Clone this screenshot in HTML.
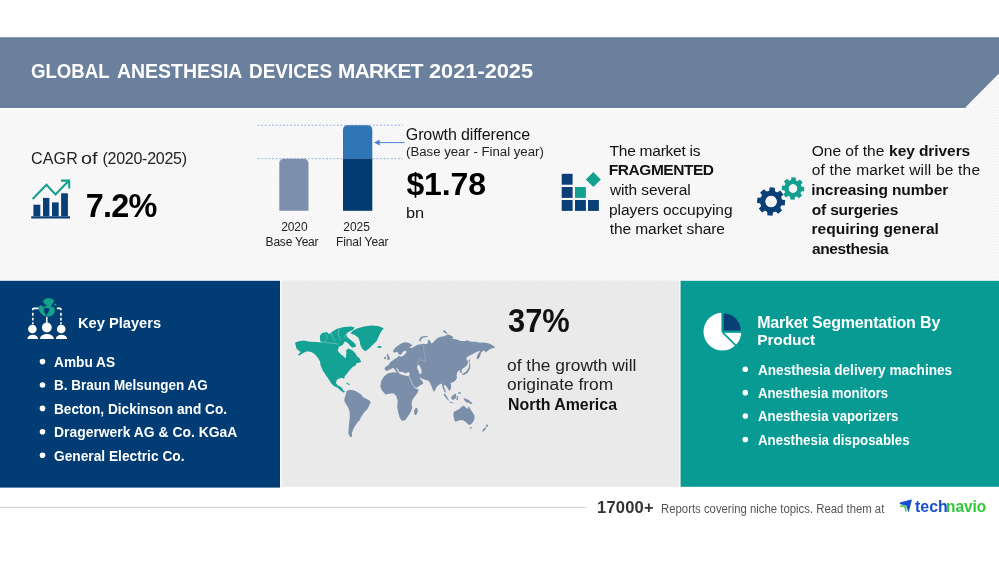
<!DOCTYPE html>
<html><head><meta charset="utf-8">
<style>
html,body{margin:0;padding:0;background:#fff;}
body{width:999px;height:562px;position:relative;overflow:hidden;font-family:"Liberation Sans",sans-serif;}
.t{position:absolute;white-space:nowrap;line-height:1;transform-origin:0 0;}
#txt{position:absolute;left:0;top:0;width:999px;height:562px;will-change:transform;}
.abs{position:absolute;}
</style></head><body>
<svg class="abs" style="left:0;top:0" width="999" height="562" viewBox="0 0 999 562">
<defs><pattern id="hatch" width="22" height="22" patternUnits="userSpaceOnUse"><rect width="22" height="22" fill="#fff"/><g stroke="#e3e3e3" stroke-width="0.8"><path d="M-24.75 22L-2.75 0"/><path d="M-22.00 22L0.00 0"/><path d="M-19.25 22L2.75 0"/><path d="M-16.50 22L5.50 0"/><path d="M-13.75 22L8.25 0"/><path d="M-11.00 22L11.00 0"/><path d="M-8.25 22L13.75 0"/><path d="M-5.50 22L16.50 0"/><path d="M-2.75 22L19.25 0"/><path d="M0.00 22L22.00 0"/><path d="M2.75 22L24.75 0"/><path d="M5.50 22L27.50 0"/><path d="M8.25 22L30.25 0"/><path d="M11.00 22L33.00 0"/><path d="M13.75 22L35.75 0"/><path d="M16.50 22L38.50 0"/><path d="M19.25 22L41.25 0"/><path d="M22.00 22L44.00 0"/><path d="M24.75 22L46.75 0"/></g></pattern></defs>
<rect x="0" y="38" width="999" height="243" fill="url(#hatch)"/>
<path d="M0 37.3H999V74.4L962.5 110.5H0Z" fill="#ffffff"/>
<path d="M0 37.6H999V73.6L965 107.7H0Z" fill="#6a809c"/>
<rect x="0" y="37.6" width="999" height="0.9" fill="#5f7595"/>
<rect x="0" y="106.6" width="966" height="1.1" fill="#61789a"/>
<rect x="0" y="279.6" width="999" height="1.2" fill="#fdfdfd"/>
<rect x="280" y="280.5" width="401" height="206.3" fill="#f5f6f6"/>
<rect x="282" y="280.5" width="397" height="206.3" fill="#eaeaea"/>
<rect x="0" y="280.8" width="280" height="206.8" fill="#013c74"/>
<rect x="680.6" y="280.8" width="318.4" height="206" fill="#079b94"/>
<rect x="0" y="506.8" width="585.8" height="1.3" fill="#d8d8d8"/>
</svg>
<div id="txt">
<div class="t" style="top:60px;font-size:20.8px;color:#fff;font-weight:bold;left:30.64px;transform:translateY(0.80px) scaleX(0.8945);">GLOBAL</div>
<div class="t" style="top:60px;font-size:20.8px;color:#fff;font-weight:bold;left:117.32px;transform:translateY(0.80px) scaleX(0.9355);">ANESTHESIA</div>
<div class="t" style="top:60px;font-size:20.8px;color:#fff;font-weight:bold;left:249.03px;transform:translateY(0.80px) scaleX(0.9102);">DEVICES</div>
<div class="t" style="top:60px;font-size:20.8px;color:#fff;font-weight:bold;left:338.11px;letter-spacing:-0.728px;transform:translateY(0.80px);">MARKET</div>
<div class="t" style="top:60px;font-size:20.8px;color:#fff;font-weight:bold;left:429.25px;transform:translateY(0.80px) scaleX(1.0463);">2021-2025</div>
<div class="t" style="top:150px;font-size:16px;color:#222;left:30.99px;letter-spacing:0.176px;transform:translateY(0.80px);">CAGR</div>
<div class="t" style="top:150px;font-size:16px;color:#222;left:81.27px;transform:translateY(0.80px) scaleX(1.2367);">of</div>
<div class="t" style="top:150px;font-size:16px;color:#222;left:102.51px;letter-spacing:-0.269px;transform:translateY(0.80px);">(2020-2025)</div>
<div class="t" style="top:189px;font-size:32.4px;color:#000;font-weight:bold;left:85.71px;letter-spacing:-0.760px;transform:translateY(0.80px);">7.2%</div>
<div class="t" style="top:127px;font-size:16px;color:#111;left:405.80px;letter-spacing:-0.105px;transform:translateY(0.30px);">Growth difference</div>
<div class="t" style="top:145px;font-size:12px;color:#222;left:405.68px;transform:translateY(0.50px) scaleX(1.0994);">(Base year - Final year)</div>
<div class="t" style="top:168px;font-size:32px;color:#000;font-weight:bold;left:406.48px;letter-spacing:-0.143px;transform:translateY(0.00px);">$1.78</div>
<div class="t" style="top:205px;font-size:15px;color:#111;left:406.24px;transform:translateY(0.40px) scaleX(1.0920);">bn</div>
<div class="t" style="top:220px;font-size:12px;color:#222;left:281.30px;letter-spacing:-0.141px;transform:translateY(0.50px);">2020</div>
<div class="t" style="top:236px;font-size:12px;color:#222;left:265.62px;letter-spacing:-0.219px;transform:translateY(0.00px);">Base Year</div>
<div class="t" style="top:220px;font-size:12px;color:#222;left:343.30px;letter-spacing:-0.029px;transform:translateY(0.50px);">2025</div>
<div class="t" style="top:236px;font-size:12px;color:#222;left:335.92px;letter-spacing:-0.078px;transform:translateY(0.00px);">Final Year</div>
<div class="t" style="top:142px;font-size:15.5px;color:#111;left:609.55px;letter-spacing:-0.240px;transform:translateY(0.70px);">The market is</div>
<div class="t" style="top:162px;font-size:15.5px;color:#111;font-weight:bold;left:608.86px;letter-spacing:-0.463px;transform:translateY(0.30px);">FRAGMENTED</div>
<div class="t" style="top:182px;font-size:15.5px;color:#111;left:609.92px;letter-spacing:-0.102px;transform:translateY(0.00px);">with several</div>
<div class="t" style="top:201px;font-size:15.5px;color:#111;left:608.90px;letter-spacing:-0.023px;transform:translateY(0.60px);">players occupying</div>
<div class="t" style="top:221px;font-size:15.5px;color:#111;left:609.67px;letter-spacing:-0.065px;transform:translateY(0.20px);">the market share</div>
<div class="t" style="top:142px;font-size:15.5px;color:#111;left:811.67px;letter-spacing:0.027px;transform:translateY(0.70px);">One of the</div>
<div class="t" style="top:142px;font-size:15.5px;color:#111;font-weight:bold;left:889.12px;letter-spacing:-0.075px;transform:translateY(0.70px);">key drivers</div>
<div class="t" style="top:162px;font-size:15.5px;color:#111;left:811.75px;letter-spacing:0.190px;transform:translateY(0.30px);">of the market will be the</div>
<div class="t" style="top:182px;font-size:15.5px;color:#111;font-weight:bold;left:811.32px;letter-spacing:-0.110px;transform:translateY(0.00px);">increasing number</div>
<div class="t" style="top:201px;font-size:15.5px;color:#111;font-weight:bold;left:811.79px;letter-spacing:-0.189px;transform:translateY(0.60px);">of surgeries</div>
<div class="t" style="top:221px;font-size:15.5px;color:#111;font-weight:bold;left:811.38px;letter-spacing:0.057px;transform:translateY(0.20px);">requiring general</div>
<div class="t" style="top:240px;font-size:15.5px;color:#111;font-weight:bold;left:811.95px;letter-spacing:-0.375px;transform:translateY(0.90px);">anesthesia</div>
<div class="t" style="top:315px;font-size:15.5px;color:#fff;font-weight:bold;left:78.02px;transform:translateY(0.00px) scaleX(0.9452);">Key Players</div>
<div class="t" style="top:354px;font-size:15px;color:#fff;font-weight:bold;left:54.46px;transform:translateY(0.00px) scaleX(0.9122);">Ambu AS</div>
<div class="t" style="top:377px;font-size:15px;color:#fff;font-weight:bold;left:53.90px;transform:translateY(0.40px) scaleX(0.8984);">B. Braun Melsungen AG</div>
<div class="t" style="top:400px;font-size:15px;color:#fff;font-weight:bold;left:53.89px;transform:translateY(0.80px) scaleX(0.9107);">Becton, Dickinson and Co.</div>
<div class="t" style="top:424px;font-size:15px;color:#fff;font-weight:bold;left:53.87px;transform:translateY(0.20px) scaleX(0.9265);">Dragerwerk AG &amp; Co. KGaA</div>
<div class="t" style="top:447px;font-size:15px;color:#fff;font-weight:bold;left:54.24px;transform:translateY(0.60px) scaleX(0.9155);">General Electric Co.</div>
<div class="t" style="top:303px;font-size:34px;color:#111;font-weight:bold;left:507.69px;transform:translateY(0.00px) scaleX(0.9070);">37%</div>
<div class="t" style="top:357px;font-size:16px;color:#222;left:507.27px;transform:translateY(0.70px) scaleX(1.0858);">of the growth will</div>
<div class="t" style="top:376px;font-size:16px;color:#222;left:507.27px;transform:translateY(0.80px) scaleX(1.0854);">originate from</div>
<div class="t" style="top:395px;font-size:17px;color:#111;font-weight:bold;left:507.54px;transform:translateY(0.50px) scaleX(0.9353);">North America</div>
<div class="t" style="top:314px;font-size:16px;color:#fff;font-weight:bold;left:757.13px;letter-spacing:-0.169px;transform:translateY(0.90px);">Market Segmentation By</div>
<div class="t" style="top:331px;font-size:15.5px;color:#fff;font-weight:bold;left:757.16px;letter-spacing:-0.088px;transform:translateY(0.70px);">Product</div>
<div class="t" style="top:361px;font-size:15px;color:#fff;font-weight:bold;left:757.86px;transform:translateY(0.60px) scaleX(0.9058);">Anesthesia delivery machines</div>
<div class="t" style="top:385px;font-size:15px;color:#fff;font-weight:bold;left:757.87px;transform:translateY(0.03px) scaleX(0.8773);">Anesthesia monitors</div>
<div class="t" style="top:408px;font-size:15px;color:#fff;font-weight:bold;left:757.87px;transform:translateY(0.46px) scaleX(0.8822);">Anesthesia vaporizers</div>
<div class="t" style="top:431px;font-size:15px;color:#fff;font-weight:bold;left:757.87px;transform:translateY(0.89px) scaleX(0.8870);">Anesthesia disposables</div>
<div class="t" style="top:498px;font-size:16.5px;color:#333;font-weight:bold;left:597.06px;letter-spacing:0.198px;transform:translateY(0.65px);">17000+</div>
<div class="t" style="top:502px;font-size:12px;color:#555;left:660.97px;transform:translateY(0.60px) scaleX(0.9458);">Reports covering niche topics. Read them at</div>
<div class="t" style="top:498px;font-size:17px;color:#1650cf;font-weight:bold;left:914.71px;transform:translateY(0.20px) scaleX(0.9349);">tech</div>
<div class="t" style="top:498px;font-size:17px;color:#30c838;font-weight:bold;left:946.39px;transform:translateY(0.20px) scaleX(0.9058);">navio</div>
</div>
<svg class="abs" style="left:0;top:0" width="999" height="562" viewBox="0 0 999 562">
<g>
<line x1="257.6" y1="125.2" x2="402.7" y2="125.2" stroke="#9db4e0" stroke-width="1" stroke-dasharray="2 1.6"/>
<line x1="257.6" y1="158.7" x2="402.7" y2="158.7" stroke="#9db4e0" stroke-width="1" stroke-dasharray="2 1.6"/>
<path d="M279.3 210.8V163.2a4.5 4.5 0 0 1 4.5-4.5h20.2a4.5 4.5 0 0 1 4.5 4.5V210.8Z" fill="#7c8fac"/>
<path d="M343 158.7V129.7a4.5 4.5 0 0 1 4.5-4.5h20.3a4.5 4.5 0 0 1 4.5 4.5V158.7Z" fill="#2e75b6"/>
<rect x="343" y="158.7" width="29.3" height="52.1" fill="#023a72"/>
<line x1="378" y1="142.6" x2="404.5" y2="142.6" stroke="#4a7fd4" stroke-width="1"/>
<path d="M374 142.6l5.6-2.9v5.8z" fill="#4a7fd4"/>
</g>
<g>
<rect x="31.2" y="216.3" width="38.8" height="2.2" fill="#0b3f78"/>
<rect x="33.4" y="204.7" width="6.9" height="11.6" fill="#0b3f78"/>
<rect x="43" y="197.9" width="6.4" height="18.4" fill="#0b3f78"/>
<rect x="52" y="202.4" width="6.7" height="13.9" fill="#0b3f78"/>
<rect x="61.1" y="193.3" width="6.8" height="23.0" fill="#0b3f78"/>
<polyline points="32.6,199 46.5,184.8 55.5,194.4 68.6,181" fill="none" stroke="#14a091" stroke-width="2.1" stroke-linejoin="miter"/>
<polyline points="61,180.6 69.2,180.6 69.2,188.4" fill="none" stroke="#14a091" stroke-width="2.1" stroke-linejoin="miter"/>
</g>
<g>
<rect x="561.7" y="173.8" width="10.9" height="10.9" fill="#0b3f78"/>
<rect x="561.7" y="187" width="10.9" height="10.9" fill="#0b3f78"/>
<rect x="575" y="187" width="10.9" height="10.9" fill="#14a091"/>
<rect x="561.7" y="200" width="10.9" height="10.9" fill="#0b3f78"/>
<rect x="575" y="200" width="10.9" height="10.9" fill="#0b3f78"/>
<rect x="588" y="200" width="10.9" height="10.9" fill="#0b3f78"/>
<path d="M593.3 172l7.5 7.5-7.5 7.5-7.5-7.5z" fill="#14a091"/>
</g>
<g>
<path d="M769.03 190.90 L769.79 187.36 L774.85 187.80 L774.98 191.42 L777.13 192.54 L780.17 190.57 L783.44 194.47 L780.97 197.11 L781.70 199.43 L785.24 200.19 L784.80 205.25 L781.18 205.38 L780.06 207.53 L782.03 210.57 L778.13 213.84 L775.49 211.37 L773.17 212.10 L772.41 215.64 L767.35 215.20 L767.22 211.58 L765.07 210.46 L762.03 212.43 L758.76 208.53 L761.23 205.89 L760.50 203.57 L756.96 202.81 L757.40 197.75 L761.02 197.62 L762.14 195.47 L760.17 192.43 L764.07 189.16 L766.71 191.63Z M765.10 201.50a6.0 6.0 0 1 1 12.0 0a6.0 6.0 0 1 1 -12.0 0Z" fill="#0b3f78" fill-rule="evenodd"/>
<path d="M760.30 201.50a10.8 10.8 0 1 0 21.6 0a10.8 10.8 0 1 0 -21.6 0Z M765.10 201.50a6.0 6.0 0 1 1 12.0 0a6.0 6.0 0 1 1 -12.0 0Z" fill="#0b3f78" fill-rule="evenodd"/>
<path d="M790.98 180.14 L791.44 177.21 L795.74 177.43 L795.89 180.40 L797.48 181.16 L799.88 179.41 L802.76 182.61 L800.77 184.81 L801.36 186.48 L804.29 186.94 L804.07 191.24 L801.10 191.39 L800.34 192.98 L802.09 195.38 L798.89 198.26 L796.69 196.27 L795.02 196.86 L794.56 199.79 L790.26 199.57 L790.11 196.60 L788.52 195.84 L786.12 197.59 L783.24 194.39 L785.23 192.19 L784.64 190.52 L781.71 190.06 L781.93 185.76 L784.90 185.61 L785.66 184.02 L783.91 181.62 L787.11 178.74 L789.31 180.73Z M788.50 188.50a4.5 4.5 0 1 1 9.0 0a4.5 4.5 0 1 1 -9.0 0Z" fill="#14a091" fill-rule="evenodd"/>
<path d="M784.40 188.50a8.6 8.6 0 1 0 17.2 0a8.6 8.6 0 1 0 -17.2 0Z M788.50 188.50a4.5 4.5 0 1 1 9.0 0a4.5 4.5 0 1 1 -9.0 0Z" fill="#14a091" fill-rule="evenodd"/>
</g>
<g>
<polygon points="43.89,300.18 46.66,298.51 50.83,298.51 53.79,300.18 53.42,302.49 51.75,303.88 51.29,305.73 48.98,306.19 47.13,304.80 44.81,303.88 43.43,302.03" fill="#16a28b" stroke="#16a28b" stroke-width="0.5" stroke-linejoin="round"/>
<polygon points="54.06,303.88 55.91,304.34 56.38,305.26 54.53,304.99" fill="#16a28b" stroke="#16a28b" stroke-width="0.5" stroke-linejoin="round"/>
<polygon points="39.26,306.19 41.11,305.26 42.50,307.11 44.81,306.65 47.13,305.26 50.83,305.91 51.75,307.58 53.60,307.11 54.53,309.89 54.06,313.13 51.75,315.44 48.51,316.36 47.13,316.09 46.76,314.98 48.79,312.20 49.81,309.61 48.79,307.95 46.02,307.39 43.61,308.22 43.89,311.74 45.28,314.24 46.02,316.09 43.89,315.72 41.11,313.59 39.26,310.35" fill="#16a28b" stroke="#16a28b" stroke-width="0.5" stroke-linejoin="round"/>
<path d="M38.6 308.4H33.7Q32.8 308.4 32.8 309.3V324.2" fill="none" stroke="#fff" stroke-width="1.65" stroke-dasharray="7 2.7 3 1.9 2.8 1.8 2.6 1.8"/>
<path d="M56.9 308.4H60Q60.9 308.4 60.9 309.3V324.2" fill="none" stroke="#fff" stroke-width="1.65" stroke-dasharray="5.2 2.7 3 1.9 2.8 1.8 2.6 1.8"/>
<line x1="46.8" y1="316.8" x2="46.8" y2="323" stroke="#fff" stroke-width="1.5"/>
<circle cx="32.4" cy="329" r="4.3" fill="#fff"/>
<circle cx="46.8" cy="327.5" r="4.9" fill="#fff"/>
<circle cx="61.2" cy="329" r="4.3" fill="#fff"/>
<path d="M27.4 338.9a5.35 4.1 0 0 1 10.7 0z" fill="#fff"/>
<path d="M39.9 338.9a7 4.9 0 0 1 14 0z" fill="#fff"/>
<path d="M55.8 338.9a5.7 4.1 0 0 1 11.4 0z" fill="#fff"/>
</g>
<g>
<circle cx="722.4" cy="331.7" r="18.9" fill="#fff"/>
<rect x="722.40" y="311.80" width="19.90" height="19.90" fill="#079b94"/>
<path d="M723.49 330.66V313.40A17.26 17.26 0 0 1 740.75 330.66Z" fill="#0b3f78"/>
<rect x="721.40" y="311.80" width="2.1" height="19.90" fill="#079b94"/>
<rect x="722.40" y="330.66" width="19.90" height="2.17" fill="#079b94"/>
<line x1="722.40" y1="332.10" x2="736.90" y2="346.60" stroke="#079b94" stroke-width="1.7"/>
</g>
<g>
<path d="M295.0 342.8 L297.8 341.4 L303.5 340.4 L309.9 341.7 L316.4 342.1 L324.2 342.8 L331.3 343.5 L337.0 344.2 L339.1 346.4 L337.7 350.6 L339.9 353.5 L343.4 356.3 L345.6 358.5 L346.3 354.2 L346.3 349.9 L348.4 348.5 L352.7 350.6 L355.5 353.5 L357.0 356.3 L359.8 358.5 L361.2 362.0 L358.4 362.7 L356.2 363.4 L355.5 365.6 L352.7 367.0 L349.8 369.9 L347.0 373.4 L344.8 376.3 L344.1 379.1 L342.0 377.7 L339.1 378.4 L337.0 379.8 L335.9 382.7 L337.7 385.5 L339.9 386.2 L342.0 388.1 L343.4 390.5 L345.3 391.9 L343.4 392.4 L340.6 390.5 L337.7 387.7 L334.2 386.2 L331.3 383.4 L328.5 379.1 L325.6 374.8 L322.8 370.6 L320.6 365.6 L319.9 361.3 L317.8 357.7 L314.9 354.2 L311.4 352.1 L307.1 351.3 L303.5 352.8 L299.3 355.6 L297.8 354.9 L300.7 352.1 L298.5 350.6 L296.4 348.5 L295.7 345.6Z" fill="#14a294"/>
<path d="M319.9 335.7 L322.1 333.1 L327.0 332.1 L329.2 334.2 L332.0 331.7 L337.0 328.8 L344.1 327.1 L351.3 326.4 L354.8 327.4 L352.7 330.0 L348.4 332.1 L346.3 334.2 L347.0 337.1 L349.8 339.2 L352.7 341.4 L355.5 344.2 L356.2 346.4 L352.7 347.8 L349.8 345.6 L347.7 342.8 L344.8 341.4 L342.7 344.9 L339.9 346.4 L337.0 345.6 L332.7 344.9 L328.5 344.9 L324.2 344.2 L320.2 341.4Z" fill="#14a294"/>
<path d="M350.5 333.5 L352.7 330.7 L357.0 328.5 L364.1 326.4 L371.2 325.4 L378.3 326.0 L383.7 328.3 L381.2 331.4 L379.0 335.7 L376.9 340.7 L372.6 344.9 L369.1 348.5 L365.5 351.3 L362.6 349.2 L360.5 345.6 L359.8 341.4 L358.4 337.8 L354.8 335.0Z" fill="#14a294"/>
<ellipse cx="379.5" cy="347.1" rx="2.1" ry="1" fill="#14a294"/>
<path d="M345.6 382.3l3.5 1.4 1.5 1-3-0.3z" fill="#14a294"/>
<polyline points="320.6,341.1 327.0,342.8 332.7,343.2 338.4,344.2" fill="none" stroke="#e9e9e9" stroke-width="0.45" stroke-opacity="0.8"/>
<polyline points="331.0,332.1 332.7,337.1 335.3,341.4" fill="none" stroke="#e9e9e9" stroke-width="0.4" stroke-opacity="0.8"/>
<polyline points="339.1,328.5 338.1,334.2 340.6,339.9" fill="none" stroke="#e9e9e9" stroke-width="0.4" stroke-opacity="0.8"/>
<polyline points="346.3,333.5 343.8,338.5" fill="none" stroke="#e9e9e9" stroke-width="0.4" stroke-opacity="0.8"/>
<polyline points="325.6,333.5 327.3,338.5 324.9,341.4" fill="none" stroke="#e9e9e9" stroke-width="0.35" stroke-opacity="0.8"/>
<path d="M346.6 391.0 L350.0 389.8 L354.1 390.4 L357.5 392.1 L361.0 394.5 L363.3 397.3 L366.8 399.1 L369.7 400.8 L370.8 402.5 L369.1 405.4 L367.9 408.3 L366.2 410.6 L363.9 412.4 L362.7 414.7 L361.0 417.0 L359.9 419.9 L357.5 422.2 L355.8 425.1 L354.1 427.4 L352.9 430.3 L351.8 433.2 L352.1 436.1 L351.0 437.6 L349.5 436.1 L348.3 433.2 L348.6 429.7 L348.9 425.1 L349.5 420.5 L349.8 415.8 L349.5 411.2 L348.3 407.7 L346.0 404.3 L344.2 400.8 L344.8 397.3 L346.0 393.9Z" fill="#7b8fab"/>
<path d="M383.9 376.6 L387.5 373.4 L392.8 372.2 L398.1 372.7 L401.7 374.8 L406.1 375.7 L409.7 376.6 L411.5 380.2 L413.3 384.6 L415.0 388.2 L418.6 389.4 L417.7 392.6 L415.0 396.2 L412.4 399.7 L411.5 404.2 L412.4 407.7 L410.6 412.2 L407.9 416.6 L405.2 420.2 L401.7 420.7 L399.6 417.5 L398.1 412.2 L397.2 406.9 L397.8 401.5 L396.4 396.2 L393.7 393.5 L390.1 393.5 L385.7 394.4 L382.1 390.8 L380.3 386.4 L381.2 381.0Z" fill="#7b8fab"/>
<path d="M415.0 408.6 L417.3 407.7 L417.7 411.3 L416.3 414.9 L414.5 414.9 L414.1 411.3Z" fill="#7b8fab"/>
<path d="M385.0 370.1 L384.5 368.0 L386.2 366.5 L389.0 364.6 L390.0 362.4 L392.5 360.5 L394.7 358.9 L397.4 357.6 L398.7 355.5 L399.9 356.8 L402.4 356.2 L404.9 354.3 L406.8 351.8 L404.9 350.5 L403.1 351.8 L400.6 354.9 L398.7 354.3 L397.4 351.8 L393.7 352.7 L393.1 350.5 L395.0 348.1 L398.1 345.6 L401.2 343.4 L404.3 342.2 L407.4 342.4 L410.5 343.7 L412.6 345.6 L410.5 346.4 L409.3 347.4 L411.8 348.1 L414.9 346.2 L417.4 344.7 L421.1 344.3 L423.9 343.7 L426.7 344.3 L428.0 342.4 L427.6 340.6 L429.2 339.7 L430.5 341.8 L431.7 343.7 L433.0 342.4 L434.8 340.6 L436.7 338.7 L438.6 337.5 L441.7 336.5 L444.8 336.2 L446.7 334.7 L449.2 334.7 L451.7 336.0 L453.5 337.2 L452.0 338.7 L454.8 339.0 L457.3 339.7 L461.0 341.0 L466.0 341.0 L467.2 340.0 L469.1 341.2 L472.2 341.8 L476.0 341.8 L479.7 342.8 L483.4 342.4 L487.2 343.1 L490.3 343.9 L492.8 345.6 L495.3 347.2 L494.0 348.1 L491.5 348.4 L489.0 349.7 L487.2 351.2 L485.7 352.2 L484.0 350.5 L482.2 351.4 L480.9 353.0 L480.3 355.5 L479.1 358.0 L477.4 359.6 L476.7 357.6 L477.4 354.9 L479.1 352.4 L480.3 350.9 L478.4 351.2 L476.0 352.2 L472.8 353.9 L469.7 355.5 L467.2 357.1 L466.2 358.4 L467.5 360.5 L468.2 362.4 L467.2 364.9 L465.4 366.7 L462.9 368.4 L461.2 370.5 L462.2 373.0 L460.4 373.0 L459.8 370.5 L458.3 370.9 L457.0 373.0 L456.6 375.5 L457.0 378.0 L455.4 380.5 L452.9 382.3 L450.4 383.3 L451.3 386.1 L450.8 388.8 L449.5 391.0 L448.3 389.2 L447.0 387.3 L445.8 385.8 L444.8 384.6 L443.8 386.1 L445.0 389.2 L446.0 392.3 L444.8 392.3 L443.3 389.2 L442.3 386.3 L441.7 383.6 L439.8 384.2 L437.9 385.8 L436.3 387.6 L435.1 390.0 L434.0 391.9 L432.6 389.2 L431.3 385.8 L429.8 382.6 L428.0 380.5 L424.9 379.8 L421.7 378.6 L419.6 377.3 L420.9 379.8 L422.6 381.7 L423.4 383.6 L421.1 384.8 L418.0 386.7 L415.9 388.3 L413.9 386.3 L412.1 382.6 L410.5 379.2 L408.9 376.1 L409.9 373.6 L408.4 372.1 L405.9 373.3 L403.4 372.4 L401.2 371.4 L399.9 372.6 L398.7 370.5 L397.4 368.4 L396.0 367.6 L397.2 370.1 L398.7 373.0 L397.4 373.3 L395.6 370.9 L394.0 368.6 L392.5 368.0 L390.6 369.2 L388.7 370.1 L386.9 371.1Z" fill="#7b8fab"/>
<path d="M386.5 353.9 L387.7 353.4 L388.5 355.5 L389.5 357.1 L390.0 358.9 L388.7 360.1 L387.2 359.9 L387.7 358.0 L386.9 356.8 L387.2 355.5Z" fill="#7b8fab"/>
<path d="M384.1 357.1 L385.7 356.7 L386.2 358.4 L385.0 359.4 L384.1 358.6Z" fill="#7b8fab"/>
<path d="M419.3 339.3 L421.1 336.8 L424.9 336.0 L428.0 336.2 L427.4 337.1 L423.6 337.5 L421.7 338.7 L420.5 341.2 L419.3 341.2Z" fill="#7b8fab"/>
<path d="M461.6 374.2 L464.1 373.0 L466.6 371.1 L468.5 368.0 L469.1 364.9 L469.7 362.4 L470.3 364.9 L470.0 368.6 L467.9 372.4 L465.4 374.2 L462.9 375.1Z" fill="#7b8fab"/>
<path d="M469.1 358.6 L470.0 361.1 L469.5 363.6 L468.7 361.1Z" fill="#7b8fab"/>
<path d="M442.9 330.6 L444.8 330.2 L446.7 332.5 L447.9 333.7 L446.0 333.5 L443.6 332.2Z" fill="#7b8fab"/>
<path d="M417.4 365.5 L419.3 364.9 L420.5 367.4 L421.7 370.5 L421.1 374.2 L419.3 373.6 L418.4 370.5 L417.1 368.0Z" fill="#eaeaea"/>
<polyline points="423.9,344.9 423.6,349.9 424.9,356.2 425.5,360.5 423.0,361.1 419.3,359.3 418.0,362.4 417.6,365.1" fill="none" stroke="#a9b6c9" stroke-width="0.5"/>
<polyline points="409.2,376.6 412.6,384.8 415.8,388.3" fill="none" stroke="#dfe3ea" stroke-width="0.6"/>
<path d="M453.5 412.6 L455.8 410.8 L459.3 409.1 L461.6 406.8 L463.9 405.6 L465.7 407.4 L467.4 409.1 L468.6 406.2 L469.7 407.9 L471.4 410.8 L473.2 413.2 L474.6 416.0 L474.3 419.5 L472.6 422.4 L470.9 424.5 L468.6 424.7 L466.2 422.4 L463.9 420.7 L461.0 420.1 L458.2 420.7 L455.3 421.8 L454.1 419.5 L453.5 415.5Z" fill="#7b8fab"/>
<path d="M486.1 424.7 L487.6 424.5 L488.2 425.9 L486.8 427.0 L485.9 426.4Z" fill="#7b8fab"/>
<path d="M482.4 430.3 L484.2 428.2 L485.9 427.0 L486.5 427.9 L484.7 429.9 L483.4 431.6 L482.4 431.4Z" fill="#7b8fab"/>
<path d="M443.7 394.1 L444.9 393.5 L447.2 397.0 L448.9 399.9 L448.3 400.7 L446.0 398.1 L444.3 395.8Z" fill="#7b8fab"/>
<path d="M449.5 401.6 L453.5 402.7 L453.3 403.6 L449.5 402.5Z" fill="#7b8fab"/>
<path d="M451.2 397.0 L453.5 394.7 L455.8 393.5 L456.4 395.8 L455.3 398.7 L452.9 399.9 L451.4 398.7Z" fill="#7b8fab"/>
<path d="M456.8 396.4 L458.2 395.8 L457.9 399.9 L456.4 399.9Z" fill="#7b8fab"/>
<path d="M458.2 392.3 L460.5 392.1 L460.7 393.7 L458.7 394.1Z" fill="#7b8fab"/>
<path d="M463.4 398.1 L465.7 398.7 L468.6 399.9 L471.4 402.2 L472.6 404.1 L470.9 403.9 L468.6 402.7 L466.2 402.2 L464.5 400.4Z" fill="#7b8fab"/>
<circle cx="470.9" cy="427.8" r="0.9" fill="#7b8fab"/>
</g>
<g>
<path d="M899.8 502.4L911.2 499.5Q912 499.4 911.8 500.2L908.9 511.6Q908.5 512.3 908.1 511.6L906.2 505.7L899.8 504Z" fill="#1650cf"/>
<path d="M900.1 506H903Q905.4 506.1 905.6 508.6L905.8 511.5" fill="none" stroke="#30cf38" stroke-width="1.5"/>
</g>
<circle cx="42.5" cy="361.60" r="2.8" fill="#fff"/>
<circle cx="42.5" cy="385.00" r="2.8" fill="#fff"/>
<circle cx="42.5" cy="408.40" r="2.8" fill="#fff"/>
<circle cx="42.5" cy="431.80" r="2.8" fill="#fff"/>
<circle cx="42.5" cy="455.20" r="2.8" fill="#fff"/>
<circle cx="745.3" cy="369.20" r="2.8" fill="#fff"/>
<circle cx="745.3" cy="392.63" r="2.8" fill="#fff"/>
<circle cx="745.3" cy="416.06" r="2.8" fill="#fff"/>
<circle cx="745.3" cy="439.49" r="2.8" fill="#fff"/>
</svg>
</body></html>
